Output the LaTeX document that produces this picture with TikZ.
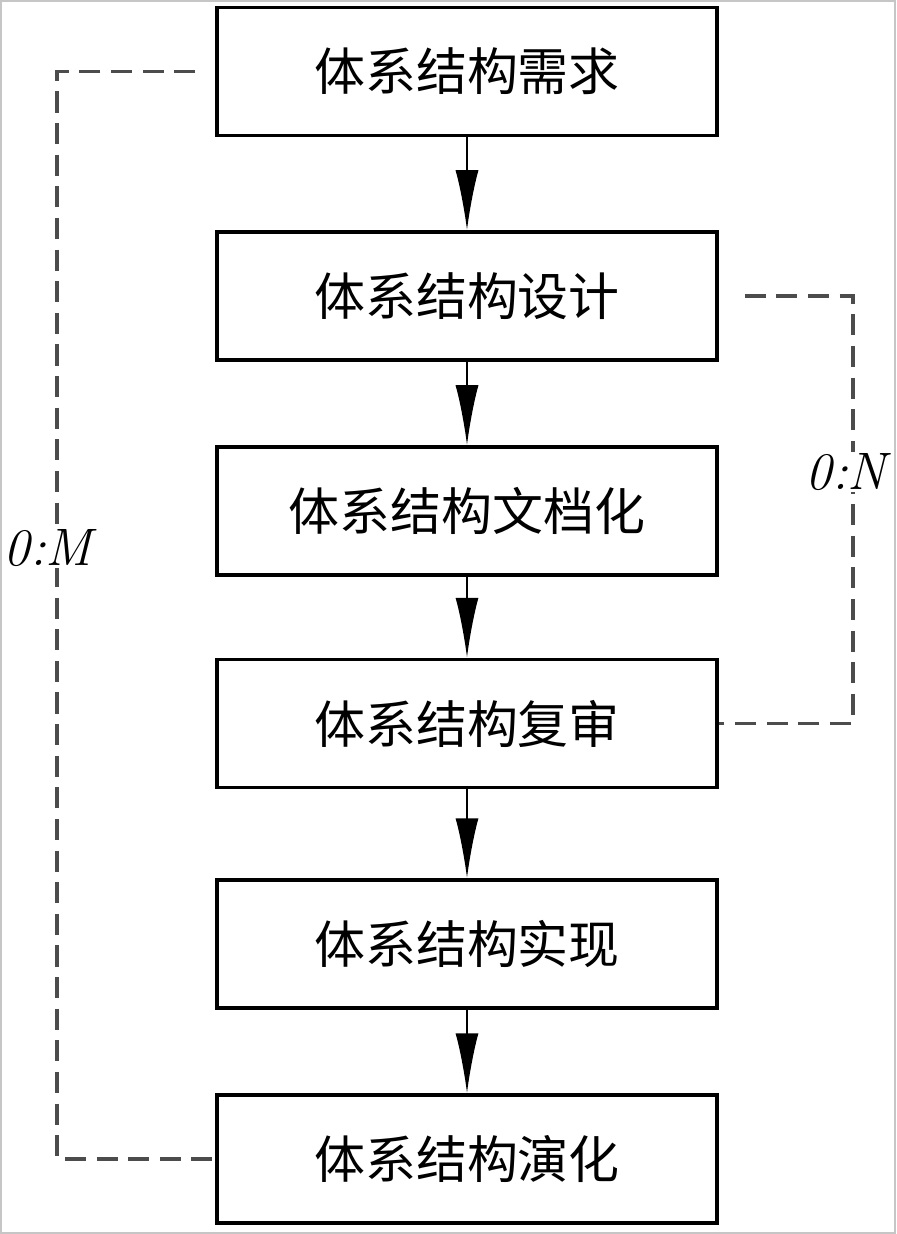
\documentclass[tikz,border=0pt]{standalone}
\usepackage{fontspec}
\newfontfamily\cjk{Noto Sans CJK SC}
\usetikzlibrary{arrows.meta}

\tikzset{
    stage/.style={draw, line width=2pt, minimum width=10cm, minimum height=2.56cm,
        font=\cjk\fontsize{29}{34}\selectfont},
    flow/.style={-{Latex[length=1.2cm,width=0.46cm]}, line width=1.2pt},
    loopline/.style={line width=2.2pt, black!70, dash pattern=on 12pt off 6pt},
    looplabel/.style={fill=white, inner sep=1pt, font=\fontsize{30}{36}\selectfont\itshape}
}

\begin{document}
\begin{tikzpicture}
    \useasboundingbox (0,0) rectangle (17.92,-24.68);
    \draw[gray!45, line width=0.8pt] (0.02,-0.02) rectangle (17.9,-24.66);

    \draw (9.34,-1.43) node [stage] (req) {体系结构需求};
    \draw (9.34,-5.92) node [stage] (des) {体系结构设计};
    \draw (9.34,-10.22) node [stage] (doc) {体系结构文档化};
    \draw (9.34,-14.47) node [stage] (rev) {体系结构复审};
    \draw (9.34,-18.88) node [stage] (imp) {体系结构实现};
    \draw (9.34,-23.18) node [stage] (evo) {体系结构演化};

    \draw[flow] (req) -- (des);
    \draw[flow] (des) -- (doc);
    \draw[flow] (doc) -- (rev);
    \draw[flow] (rev) -- (imp);
    \draw[flow] (imp) -- (evo);

    % loops back
    \coordinate (mstart) at ([xshift=-0.4cm]req.west);
    \coordinate (mcorner) at (1.14,-1.43);
    \coordinate (nstart) at ([xshift=0.52cm]des.east);
    \coordinate (ncorner) at (17.06,-5.92);
    \draw[loopline] (mstart) -- (mcorner) |- (evo.west);
    \draw[loopline] (nstart) -- (ncorner) |- (rev.east);
    \draw (0.96,-10.96) node [looplabel] (m) {0:M};
    \draw (16.92,-9.44) node [looplabel] (n) {0:N};
\end{tikzpicture}
\end{document}
